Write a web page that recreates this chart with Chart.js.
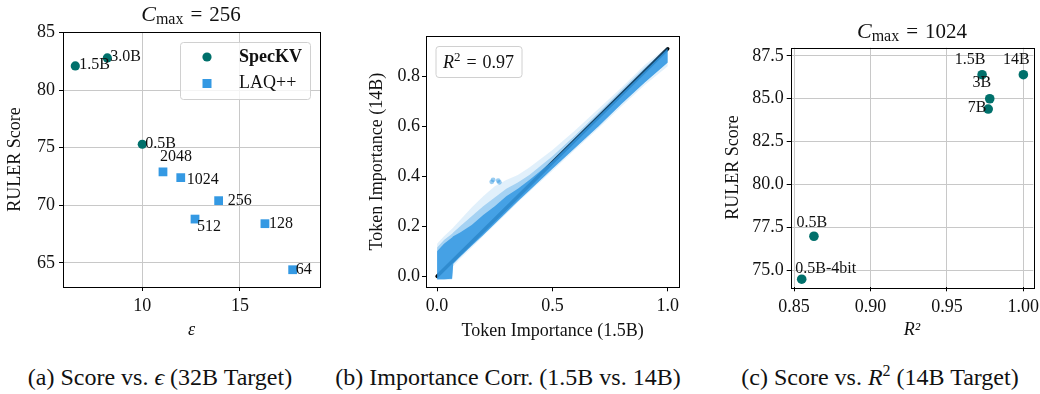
<!DOCTYPE html>
<html>
<head>
<meta charset="utf-8">
<script src="https://cdn.jsdelivr.net/npm/chart.js@4.4.1/dist/chart.umd.min.js"></script>
<style>
  body { margin: 0; background: #fff; width: 1040px; height: 394px; position: relative; overflow: hidden;
         font-family: "Liberation Serif", "Times New Roman", serif; color: #111; }
  canvas { position: absolute; top: 0; }
  .caption { position: absolute; top: 364px; font-size: 24px; white-space: nowrap; transform: translateX(-50%); }
  .caption sup { font-size: 16px; line-height: 0; }
</style>
</head>
<body>
<canvas id="scoreEps" width="345" height="345" style="left:0"></canvas>
<canvas id="importance" width="345" height="345" style="left:345px"></canvas>
<canvas id="scoreR2" width="350" height="345" style="left:690px"></canvas>

<div class="caption" style="left:160px">(a) Score vs. <i>ϵ</i> (32B Target)</div>
<div class="caption" style="left:508px">(b) Importance Corr. (1.5B vs. 14B)</div>
<div class="caption" style="left:880px">(c) Score vs. <i>R</i><sup>2</sup> (14B Target)</div>

<script>
// (a) RULER score vs. epsilon, 32B target
const specModels = ['1.5B', '3.0B', '0.5B'];
const specEps = [6.57, 8.21, 10.0];
const specScore = [82.1, 82.8, 75.3];
const laqBudgets = ['2048', '1024', '256', '512', '128', '64'];
const laqEps = [11.06, 11.97, 13.91, 12.70, 16.28, 17.70];
const laqScore = [72.9, 72.4, 70.4, 68.8, 68.4, 64.4];
const epsTicks = [10, 15];
const scoreTicksA = [65, 70, 75, 80, 85];

// (b) token importance, 1.5B draft vs 14B target: edges of the point cloud
// (sparse haze, medium density, dense core)
const tokenX   = [0, 0.03, 0.065, 0.07, 0.1, 0.15, 0.2, 0.25, 0.3, 0.35, 0.4, 0.5, 0.6, 0.7, 0.8, 0.9, 1.0];
const hazeLow  = [-0.015, -0.015, -0.014, 0.04, 0.07, 0.115, 0.16, 0.205, 0.25, 0.295, 0.338, 0.422, 0.508, 0.592, 0.68, 0.765, 0.84];
const hazeHigh = [0.13, 0.16, 0.19, 0.195, 0.225, 0.275, 0.32, 0.36, 0.385, 0.405, 0.435, 0.505, 0.585, 0.67, 0.755, 0.845, 0.92];
const midHigh  = [0.115, 0.145, 0.17, 0.175, 0.2, 0.24, 0.28, 0.315, 0.35, 0.375, 0.405, 0.48, 0.565, 0.655, 0.745, 0.835, 0.915];
const coreLow  = [-0.012, -0.012, -0.01, 0.05, 0.078, 0.122, 0.165, 0.21, 0.255, 0.3, 0.343, 0.43, 0.515, 0.6, 0.69, 0.775, 0.855];
const coreHigh = [0.10, 0.13, 0.155, 0.16, 0.175, 0.205, 0.245, 0.28, 0.32, 0.35, 0.385, 0.46, 0.55, 0.64, 0.73, 0.82, 0.91];
// the two small spikes above the band
const sprayX = [0.237, 0.243, 0.265, 0.27];
const sprayY = [0.378, 0.386, 0.383, 0.376];
const fitX = [0, 1];
const fitY = [0, 0.91];
const importanceTicksX = [0, 0.5, 1];
const importanceTicksY = [0, 0.2, 0.4, 0.6, 0.8];
const r2Text = '0.97';

// (c) RULER score vs. R^2 of draft models, 14B target
const draftModels = ['1.5B', '14B', '3B', '7B', '0.5B', '0.5B-4bit'];
const draftR2 = [0.973, 1.0, 0.978, 0.977, 0.863, 0.855];
const draftScore = [86.4, 86.4, 85.0, 84.4, 77.0, 74.5];
const r2Ticks = [0.85, 0.90, 0.95, 1.00];
const scoreTicksC = [75, 77.5, 80, 82.5, 85, 87.5];

const TEAL = '#00706b';
const BLUE = '#3499e3';
const SERIF = '"Liberation Serif", "Times New Roman", serif';
const GRID = '#c8c8c8';

// label offsets (px) from each marker
const specLabelOffsets = [[4, -1], [3, -1], [3, 0]];
const laqLabelOffsets = [[-3, -15], [6, 2], [9, 0], [2, 8], [4, 0], [3, 0]];
const draftLabelOffsets = [[-12, -15], [-7, -15], [-8, -16], [-11, -1], [-2, -13], [24, -10]];

const pts = (xs, ys) => xs.map((x, i) => ({x: x, y: ys[i]}));

function fixedAxis(size) {
  return scale => {
    if (scale.isHorizontal()) scale.height = size; else scale.width = size;
    scale.paddingLeft = scale.paddingRight = scale.paddingTop = scale.paddingBottom = 0;
  };
}
function setTicks(values) {
  return scale => { scale.ticks = values.map(v => ({value: v})); };
}

function axis(min, max, ticks, digits, size, title, opts) {
  opts = opts || {};
  return {
    type: 'linear', min: min, max: max,
    afterBuildTicks: setTicks(ticks),
    afterFit: fixedAxis(size),
    border: {display: false},
    grid: {color: GRID, lineWidth: 1, tickColor: '#000', tickLength: 4, drawOnChartArea: opts.grid !== false},
    ticks: {color: '#111', font: {family: SERIF, size: 18}, padding: opts.tickPad,
            callback: v => v.toFixed(digits)},
    title: {display: true, text: title, color: '#111',
            font: {family: SERIF, size: 18, style: opts.italic ? 'italic' : 'normal'},
            padding: {top: opts.titlePad, bottom: opts.titlePad}}
  };
}

// draws runs of text (for math-like titles) centred on cx
function drawRuns(ctx, runs, cx, baseY) {
  let w = 0;
  runs.forEach(r => {
    ctx.font = r.font;
    r.w = ctx.measureText(r.text).width + (r.gap || 0) * 2;
    w += r.w;
  });
  let x = cx - w / 2;
  ctx.textAlign = 'left';
  ctx.textBaseline = 'alphabetic';
  runs.forEach(r => {
    ctx.font = r.font;
    ctx.fillText(r.text, x + (r.gap || 0), baseY + (r.dy || 0));
    x += r.w;
  });
}

const framePlugin = {
  id: 'frame',
  afterDatasetsDraw(chart) {
    const {ctx, chartArea: a} = chart;
    ctx.save();
    ctx.strokeStyle = '#000';
    ctx.lineWidth = 1;
    ctx.strokeRect(Math.round(a.left) + 0.5, Math.round(a.top) + 0.5,
                   Math.round(a.right - a.left), Math.round(a.bottom - a.top));
    ctx.restore();
  }
};

function labelPlugin(groups) {
  return {
    id: 'pointLabels',
    afterDatasetsDraw(chart) {
      const {ctx, scales: {x, y}} = chart;
      ctx.save();
      ctx.font = '16px ' + SERIF;
      ctx.fillStyle = '#111';
      ctx.textBaseline = 'middle';
      groups.forEach(g => {
        ctx.textAlign = g.align;
        g.names.forEach((name, i) => {
          ctx.fillText(name, x.getPixelForValue(g.xs[i]) + g.offsets[i][0],
                             y.getPixelForValue(g.ys[i]) + g.offsets[i][1]);
        });
      });
      ctx.restore();
    }
  };
}

function cmaxTitle(value, cx, baseY) {
  return {
    id: 'cmaxTitle',
    afterDraw(chart) {
      const ctx = chart.ctx;
      ctx.save();
      ctx.fillStyle = '#111';
      drawRuns(ctx, [
        {text: 'C', font: 'italic 22px ' + SERIF},
        {text: 'max', font: '16px ' + SERIF, dy: 3},
        {text: '=', font: '21px ' + SERIF, gap: 7},
        {text: value, font: '21px ' + SERIF}
      ], cx, baseY);
      ctx.restore();
    }
  };
}

function legendBox(ctx, x, y, w, h) {
  ctx.beginPath();
  ctx.roundRect(x + 0.5, y + 0.5, w, h, 3);
  ctx.fillStyle = 'rgba(255,255,255,0.8)';
  ctx.fill();
  ctx.strokeStyle = '#d0d0d0';
  ctx.lineWidth = 1;
  ctx.stroke();
}

const base = {
  responsive: false,
  animation: false,
  events: [],
  devicePixelRatio: 1,
  plugins: {legend: {display: false}, tooltip: {enabled: false}}
};

// ---- (a) ----
new Chart(document.getElementById('scoreEps'), {
  type: 'scatter',
  data: {
    datasets: [
      {label: 'SpecKV', data: pts(specEps, specScore), pointStyle: 'circle', pointRadius: 4.6,
       backgroundColor: TEAL, borderColor: TEAL, borderWidth: 0},
      {label: 'LAQ++', data: pts(laqEps, laqScore), pointStyle: 'rect', pointRadius: 6.2,
       backgroundColor: BLUE, borderColor: BLUE, borderWidth: 0}
    ]
  },
  options: Object.assign({}, base, {
    layout: {padding: {left: 0, top: 32, right: 25, bottom: 0}},
    scales: {
      x: axis(5.94, 19.1, epsTicks, 0, 58, 'ε', {italic: true, titlePad: 4, tickPad: 4}),
      y: axis(62.9, 85.05, scoreTicksA, 0, 63, 'RULER Score', {titlePad: 4, tickPad: 4})
    }
  }),
  plugins: [
    framePlugin,
    labelPlugin([
      {names: specModels, xs: specEps, ys: specScore, offsets: specLabelOffsets, align: 'left'},
      {names: laqBudgets, xs: laqEps, ys: laqScore, offsets: laqLabelOffsets, align: 'left'}
    ]),
    cmaxTitle('256', 191, 21),
    {
      id: 'legendA',
      afterDraw(chart) {
        const ctx = chart.ctx;
        ctx.save();
        legendBox(ctx, 180, 42, 130, 57);
        ctx.fillStyle = TEAL;
        ctx.beginPath(); ctx.arc(207, 57, 4.6, 0, Math.PI * 2); ctx.fill();
        ctx.fillStyle = BLUE;
        ctx.fillRect(202.5, 79, 9, 9);
        ctx.fillStyle = '#111';
        ctx.textAlign = 'left'; ctx.textBaseline = 'middle';
        ctx.font = 'bold 18px ' + SERIF;
        ctx.fillText('SpecKV', 239, 57);
        ctx.font = '18px ' + SERIF;
        ctx.fillText('LAQ++', 239, 83);
        ctx.restore();
      }
    }
  ]
});

// ---- (b) ----
const cloudBlue = a => 'rgba(52,153,227,' + a + ')';
const edge = (ys, fill, alpha) => ({
  type: 'line', data: pts(tokenX, ys), pointRadius: 0, borderWidth: 0,
  fill: fill, backgroundColor: cloudBlue(alpha)
});
new Chart(document.getElementById('importance'), {
  type: 'scatter',
  data: {
    datasets: [
      edge(hazeLow, false, 0),
      edge(hazeHigh, '-1', 0.15),
      edge(coreLow, false, 0),
      edge(midHigh, '-1', 0.35),
      edge(coreLow, false, 0),
      edge(coreHigh, '-1', 0.85),
      {data: pts(sprayX, sprayY), pointRadius: 2.4, backgroundColor: cloudBlue(0.5), borderWidth: 0},
      {type: 'line', data: pts(fitX, fitY), pointRadius: 0, borderColor: '#000', borderWidth: 3.5,
       borderCapStyle: 'round', fill: false}
    ]
  },
  options: Object.assign({}, base, {
    layout: {padding: {left: 0, top: 36, right: 10.7, bottom: 0}},
    scales: {
      x: axis(-0.048, 1.05, importanceTicksX, 1, 57.7, 'Token Importance (1.5B)', {grid: false, titlePad: 2.5, tickPad: 4.5}),
      y: axis(-0.044, 0.961, importanceTicksY, 1, 81, 'Token Importance (14B)', {grid: false, titlePad: 21, tickPad: 2})
    }
  }),
  plugins: [
    framePlugin,
    {
      id: 'legendB',
      afterDraw(chart) {
        const ctx = chart.ctx;
        ctx.save();
        legendBox(ctx, 90.5, 46, 86, 31);
        ctx.fillStyle = '#111';
        drawRuns(ctx, [
          {text: 'R', font: 'italic 18px ' + SERIF},
          {text: '2', font: '13px ' + SERIF, dy: -7},
          {text: '=', font: '18px ' + SERIF, gap: 6},
          {text: r2Text, font: '18px ' + SERIF}
        ], 133.5, 67.5);
        ctx.restore();
      }
    }
  ]
});

// ---- (c) ----
new Chart(document.getElementById('scoreR2'), {
  type: 'scatter',
  data: {
    datasets: [
      {label: 'SpecKV', data: pts(draftR2, draftScore), pointStyle: 'circle', pointRadius: 4.8,
       backgroundColor: TEAL, borderColor: TEAL, borderWidth: 0, clip: false}
    ]
  },
  options: Object.assign({}, base, {
    layout: {padding: {left: 0, top: 47.7, right: 6.7, bottom: 0}},
    scales: {
      x: axis(0.8478, 1.0065, r2Ticks, 2, 57.7, 'R²', {italic: true, titlePad: 4, tickPad: 5}),
      y: axis(74.03, 87.97, scoreTicksC, 1, 100.7, 'RULER Score', {titlePad: 32, tickPad: 3})
    }
  }),
  plugins: [
    framePlugin,
    labelPlugin([
      {names: draftModels, xs: draftR2, ys: draftScore, offsets: draftLabelOffsets, align: 'center'}
    ]),
    cmaxTitle('1024', 222, 37.5)
  ]
});
</script>
</body>
</html>
